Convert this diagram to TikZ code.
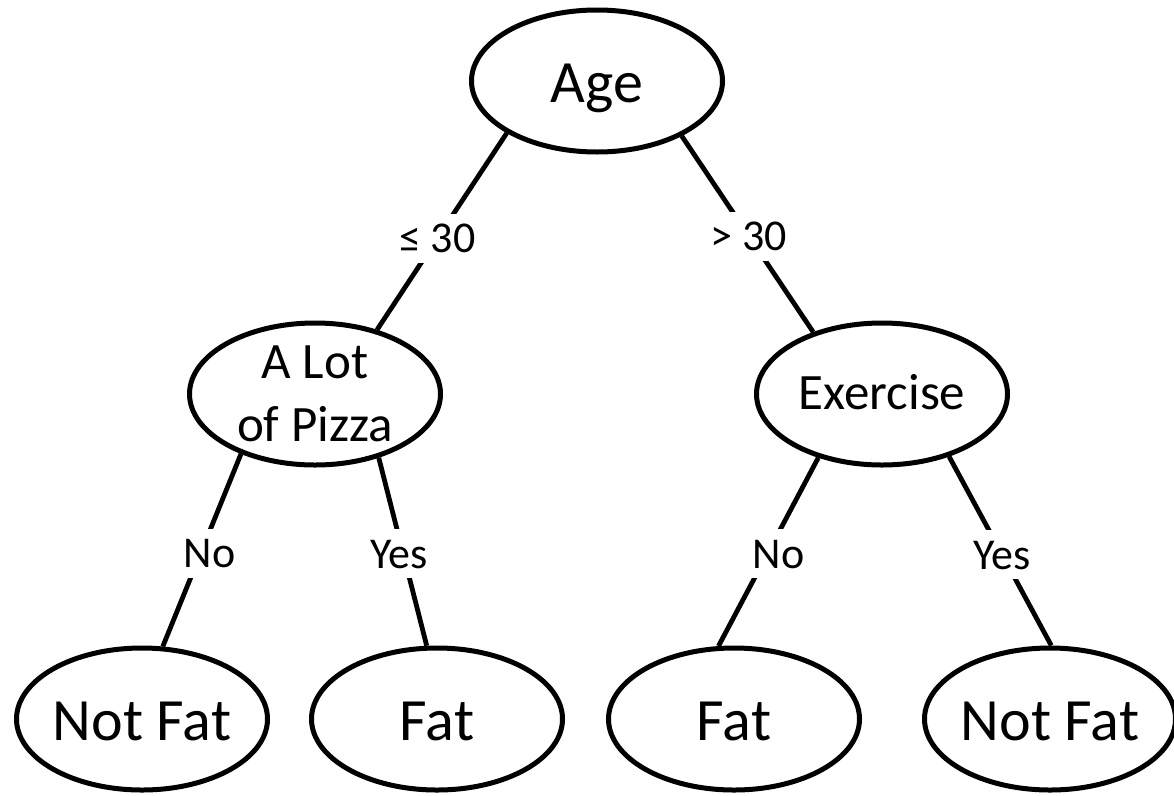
\documentclass[tikz,border=0pt]{standalone}
\usepackage{fontspec}
\setmainfont{Carlito}
\usetikzlibrary{shapes.geometric}
\tikzset{
  choice/.style={ellipse, draw, line width=5pt, minimum width=251pt, minimum height=142pt, inner xsep=-4pt, inner ysep=0pt},
  bigtext/.style={font=\fontsize{60}{72}\selectfont, text height=54pt, text depth=12pt},
  midtext/.style={font=\fontsize{51}{63}\selectfont, text height=42pt, text depth=12pt},
  branch/.style={fill=white, inner xsep=4pt, inner ysep=10pt, font=\fontsize{44}{53}\selectfont, text height=29pt, text depth=0pt},
  edge/.style={line width=4.8pt}
}
\begin{document}
\begin{tikzpicture}[x=1pt, y=-1pt]
  \useasboundingbox (0,0) rectangle (1174,795);
  \node[choice, bigtext] (age) at (597,81) {Age};
  \node[choice, midtext, align=center, text height=107pt, text depth=12pt, inner ysep=-10pt] (pizza) at (315,394) {A Lot\\of Pizza}; \node[choice, midtext] (exercise) at (882,394) {Exercise};
  \node[choice, bigtext] (notfatA) at (142,719) {Not Fat}; \node[choice, bigtext] (fatA) at (437,719) {Fat};
  \node[choice, bigtext] (fatB) at (734,719) {Fat}; \node[choice, bigtext] (notfatB) at (1050,719) {Not Fat};

  \draw[edge] (age.210) to node[branch, pos=0.535] (le30) {≤ 30} (pizza.46); \draw[edge] (age.327) to node[branch, pos=0.51] (gt30) {> 30} (exercise.138);
  \draw[edge] (pizza.219) to node[branch, pos=0.516, xshift=9pt] (noA) {No} (notfatA.74); \draw[edge] (pizza.315) to node[branch, pos=0.51, xshift=-4pt] (yesA) {Yes} (fatA.98);
  \draw[edge] (exercise.225) to node[branch, pos=0.51, xshift=11pt] (noB) {No} (fatB.102); \draw[edge] (exercise.317) to node[branch, pos=0.52] (yesB) {Yes} (notfatB.89);
\end{tikzpicture}
\end{document}
